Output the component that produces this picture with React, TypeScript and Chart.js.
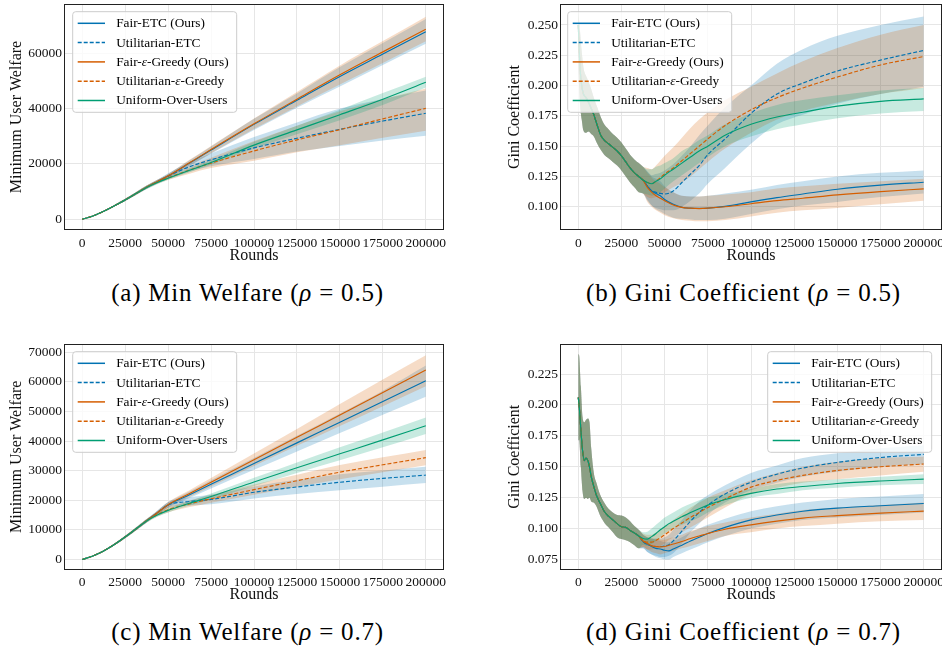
import React, { useEffect, useRef } from "react";
import { Chart, registerables } from "chart.js";

Chart.register(...registerables);

const FONT = "'Liberation Serif', 'Times New Roman', serif";

// ---------------- shared labels / ticks ----------------
const SERIES_NAMES = [
  "Fair-ETC (Ours)",
  "Utilitarian-ETC",
  "Fair-ε-Greedy (Ours)",
  "Utilitarian-ε-Greedy",
  "Uniform-Over-Users",
];
const SERIES_COLORS = ["#0072B2", "#0072B2", "#D55E00", "#D55E00", "#009E73"];
const SERIES_DASHED = [false, true, false, true, false];

const ROUND_TICKS = [0, 25000, 50000, 75000, 100000, 125000, 150000, 175000, 200000];
const WELFARE_TICKS_A = [0, 20000, 40000, 60000];
const WELFARE_TICKS_C = [0, 10000, 20000, 30000, 40000, 50000, 60000, 70000];
const GINI_TICKS_B = [0.1, 0.125, 0.15, 0.175, 0.2, 0.225, 0.25];
const GINI_TICKS_D = [0.075, 0.1, 0.125, 0.15, 0.175, 0.2, 0.225];

const CAPTION_LABELS = ["(a) Min Welfare", "(b) Gini Coefficient", "(c) Min Welfare", "(d) Gini Coefficient"];
const CAPTION_RHO = ["0.5", "0.5", "0.7", "0.7"];

// ---------------- (a) Min welfare, rho = 0.5 ----------------
const roundsA = [0, 6250, 12500, 18750, 25000, 31250, 37500, 43750, 50000, 62500, 75000, 100000, 125000, 150000, 175000, 200000];
const fairEtcA = [0, 1200, 2900, 4900, 7000, 9300, 11600, 13600, 15600, 20300, 25000, 34300, 43000, 51600, 59700, 67800];
const fairEtcALo = [0, 1100, 2700, 4600, 6600, 8800, 11000, 12900, 14900, 19300, 23700, 32300, 40300, 48000, 55800, 63400];
const fairEtcAHi = [0, 1300, 3100, 5200, 7400, 9800, 12200, 14300, 16300, 21300, 26300, 36300, 45500, 55000, 63700, 72400];
const utilEtcA = [0, 1200, 2900, 4900, 7000, 9300, 11600, 13600, 15600, 19000, 21500, 25800, 29300, 32500, 35500, 38300];
const utilEtcALo = [0, 1100, 2700, 4600, 6600, 8800, 11000, 12900, 14600, 17200, 19200, 21800, 24500, 26500, 28500, 30200];
const utilEtcAHi = [0, 1300, 3100, 5200, 7400, 9800, 12200, 14300, 16600, 20600, 23800, 29700, 35000, 40000, 43500, 46500];
const fairEpsA = [0, 1200, 2900, 4900, 7000, 9300, 11600, 13600, 15700, 20400, 25200, 34500, 43400, 52200, 60500, 68700];
const fairEpsALo = [0, 1100, 2700, 4600, 6600, 8800, 11000, 12900, 15000, 19400, 23900, 32600, 40800, 48700, 56500, 64300];
const fairEpsAHi = [0, 1300, 3100, 5200, 7400, 9800, 12200, 14300, 16400, 21500, 26500, 36400, 46000, 55600, 64400, 73200];
const utilEpsA = [0, 1200, 2900, 4900, 7000, 9300, 11600, 13500, 15000, 17800, 20300, 24700, 28700, 32400, 36300, 40100];
const utilEpsALo = [0, 1100, 2700, 4600, 6600, 8800, 11000, 12800, 14200, 16500, 18500, 21200, 24200, 26800, 29500, 32000];
const utilEpsAHi = [0, 1300, 3100, 5200, 7400, 9800, 12200, 14200, 15800, 19200, 22200, 28300, 33800, 39000, 43500, 47300];
const uniformA = [0, 1200, 2900, 4900, 7000, 9300, 11500, 13300, 14800, 17700, 20500, 26800, 32300, 37800, 43400, 49500];
const uniformALo = [0, 1100, 2700, 4600, 6600, 8800, 10900, 12700, 14300, 17000, 19700, 25600, 30700, 35800, 41300, 47600];
const uniformAHi = [0, 1300, 3100, 5200, 7400, 9800, 12100, 13900, 15300, 18400, 21400, 28000, 33800, 39600, 45600, 51500];

// ---------------- (c) Min welfare, rho = 0.7 ----------------
const roundsC = [0, 6250, 12500, 18750, 25000, 31250, 37500, 43750, 50000, 62500, 75000, 100000, 125000, 150000, 175000, 200000];
const fairEtcC = [0, 1200, 2900, 5100, 7600, 10300, 13100, 15800, 18400, 21900, 25400, 32400, 39400, 46400, 53400, 60400];
const fairEtcCLo = [0, 1100, 2700, 4800, 7200, 9800, 12500, 15100, 17500, 20800, 24000, 30300, 36500, 42700, 48900, 55000];
const fairEtcCHi = [0, 1300, 3100, 5400, 8000, 10800, 13700, 16500, 19300, 23000, 26800, 34300, 41800, 49300, 57000, 65500];
const utilEtcC = [0, 1200, 2900, 5100, 7600, 10300, 13100, 15800, 18400, 19600, 20300, 22700, 24500, 26100, 27400, 28500];
const utilEtcCLo = [0, 1100, 2700, 4800, 7200, 9800, 12500, 15100, 17500, 18200, 18700, 20600, 22100, 23400, 24600, 25800];
const utilEtcCHi = [0, 1300, 3100, 5400, 8000, 10800, 13700, 16500, 19300, 21000, 21900, 24700, 26900, 28800, 30100, 31300];
const fairEpsC = [0, 1200, 2900, 5100, 7600, 10300, 13100, 15800, 18500, 22300, 26100, 33700, 41300, 48800, 56400, 64000];
const fairEpsCLo = [0, 1100, 2700, 4800, 7200, 9800, 12500, 15100, 17600, 21200, 24700, 31600, 38400, 45100, 51800, 58500];
const fairEpsCHi = [0, 1300, 3100, 5400, 8000, 10800, 13700, 16500, 19400, 23400, 27500, 35800, 44100, 52500, 60800, 69000];
const utilEpsC = [0, 1200, 2900, 5100, 7600, 10300, 13100, 15200, 16800, 18800, 20500, 23600, 26600, 29500, 32000, 34400];
const utilEpsCLo = [0, 1100, 2700, 4800, 7200, 9800, 12500, 14500, 15900, 17700, 19200, 21900, 24600, 27100, 29500, 31800];
const utilEpsCHi = [0, 1300, 3100, 5400, 8000, 10800, 13700, 15900, 17700, 19900, 21800, 25300, 28600, 31900, 34500, 37000];
const uniformC = [0, 1200, 2900, 5100, 7600, 10300, 13000, 15000, 16600, 19000, 21300, 26200, 31000, 35700, 40400, 45200];
const uniformCLo = [0, 1100, 2700, 4800, 7200, 9800, 12400, 14400, 15900, 18200, 20300, 24800, 29200, 33500, 37900, 42400];
const uniformCHi = [0, 1300, 3100, 5400, 8000, 10800, 13600, 15600, 17300, 19800, 22300, 27600, 32800, 37900, 42900, 48000];

// ---------------- (b) Gini, rho = 0.5 ----------------
// early phase (identical for all policies)
const roundsBEarly = [0, 1000, 2000, 3000, 4500, 6000, 7500, 9000, 11000, 13000, 15000, 17500, 20000, 22500, 25000, 27500, 30000, 32500, 35000];
const giniBEarly = [0.25, 0.215, 0.2, 0.193, 0.19, 0.186, 0.181, 0.176, 0.167, 0.159, 0.155, 0.152, 0.149, 0.146, 0.142, 0.137, 0.132, 0.128, 0.125];
const giniBEarlyLo = [0.215, 0.185, 0.172, 0.163, 0.161, 0.162, 0.16, 0.158, 0.152, 0.147, 0.143, 0.14, 0.137, 0.134, 0.13, 0.125, 0.12, 0.116, 0.112];
const giniBEarlyHi = [0.262, 0.245, 0.228, 0.215, 0.208, 0.203, 0.197, 0.19, 0.182, 0.174, 0.168, 0.164, 0.16, 0.157, 0.153, 0.148, 0.143, 0.139, 0.136];
const roundsBLate = [37500, 40000, 42500, 45000, 47500, 50000, 55000, 60000, 65000, 70000, 75000, 85000, 100000, 115000, 130000, 150000, 175000, 200000];
const fairEtcB = [0.122, 0.117, 0.113, 0.111, 0.109, 0.106, 0.102, 0.0995, 0.0988, 0.0986, 0.0988, 0.1003, 0.104, 0.1075, 0.1105, 0.1144, 0.1178, 0.1202];
const fairEtcBLo = [0.111, 0.105, 0.101, 0.098, 0.096, 0.094, 0.091, 0.09, 0.0895, 0.089, 0.089, 0.09, 0.094, 0.098, 0.101, 0.104, 0.108, 0.111];
const fairEtcBHi = [0.133, 0.129, 0.125, 0.123, 0.121, 0.117, 0.112, 0.109, 0.1085, 0.1085, 0.109, 0.111, 0.114, 0.118, 0.121, 0.125, 0.128, 0.13];
const utilEtcB = [0.122, 0.117, 0.113, 0.112, 0.111, 0.1105, 0.113, 0.12, 0.127, 0.134, 0.143, 0.156, 0.177, 0.193, 0.202, 0.212, 0.221, 0.229];
const utilEtcBLo = [0.111, 0.106, 0.101, 0.099, 0.098, 0.097, 0.097, 0.1, 0.105, 0.111, 0.119, 0.132, 0.152, 0.168, 0.176, 0.185, 0.193, 0.199];
const utilEtcBHi = [0.133, 0.129, 0.126, 0.127, 0.128, 0.13, 0.135, 0.142, 0.15, 0.159, 0.167, 0.182, 0.2, 0.218, 0.23, 0.241, 0.25, 0.257];
const fairEpsB = [0.122, 0.116, 0.112, 0.109, 0.107, 0.105, 0.1015, 0.0995, 0.0988, 0.0985, 0.0988, 0.1, 0.1025, 0.105, 0.107, 0.1098, 0.1125, 0.1147];
const fairEpsBLo = [0.111, 0.104, 0.1, 0.097, 0.095, 0.093, 0.0905, 0.089, 0.0885, 0.088, 0.088, 0.089, 0.092, 0.095, 0.097, 0.099, 0.102, 0.105];
const fairEpsBHi = [0.133, 0.128, 0.124, 0.121, 0.119, 0.116, 0.112, 0.109, 0.1085, 0.1085, 0.109, 0.11, 0.112, 0.115, 0.117, 0.119, 0.121, 0.123];
const utilEpsB = [0.122, 0.12, 0.119, 0.121, 0.124, 0.127, 0.132, 0.138, 0.144, 0.15, 0.156, 0.167, 0.18, 0.19, 0.198, 0.207, 0.217, 0.224];
const utilEpsBLo = [0.111, 0.108, 0.107, 0.108, 0.11, 0.112, 0.116, 0.12, 0.125, 0.131, 0.137, 0.148, 0.161, 0.172, 0.179, 0.186, 0.193, 0.198];
const utilEpsBHi = [0.133, 0.132, 0.131, 0.134, 0.138, 0.142, 0.149, 0.157, 0.165, 0.172, 0.178, 0.188, 0.199, 0.21, 0.22, 0.231, 0.242, 0.25];
const uniformB = [0.122, 0.12, 0.119, 0.121, 0.123, 0.126, 0.131, 0.136, 0.141, 0.146, 0.15, 0.159, 0.168, 0.174, 0.178, 0.183, 0.187, 0.189];
const uniformBLo = [0.111, 0.11, 0.109, 0.11, 0.112, 0.115, 0.121, 0.126, 0.131, 0.136, 0.141, 0.15, 0.158, 0.164, 0.168, 0.173, 0.177, 0.179];
const uniformBHi = [0.133, 0.131, 0.131, 0.133, 0.134, 0.136, 0.14, 0.146, 0.15, 0.155, 0.159, 0.168, 0.177, 0.184, 0.188, 0.192, 0.196, 0.198];

// ---------------- (d) Gini, rho = 0.7 ----------------
const roundsDEarly = [0, 500, 1500, 2500, 3500, 4500, 5500, 6500, 7500, 9000, 10500, 12500, 15000, 17500, 20000, 22500, 25000, 27500, 30000, 32500, 35000];
const giniDEarly = [0.206, 0.2, 0.18, 0.163, 0.155, 0.157, 0.155, 0.15, 0.142, 0.134, 0.127, 0.121, 0.114, 0.11, 0.107, 0.104, 0.1015, 0.101, 0.0985, 0.0965, 0.094];
const giniDEarlyLo = [0.171, 0.172, 0.15, 0.13, 0.124, 0.125, 0.124, 0.125, 0.122, 0.121, 0.118, 0.111, 0.105, 0.101, 0.097, 0.093, 0.0915, 0.0905, 0.089, 0.0865, 0.084];
const giniDEarlyHi = [0.241, 0.24, 0.215, 0.19, 0.186, 0.188, 0.189, 0.186, 0.165, 0.145, 0.137, 0.128, 0.121, 0.116, 0.113, 0.111, 0.1105, 0.109, 0.106, 0.102, 0.099];
const roundsDLate = [37500, 40000, 42500, 45000, 47500, 50000, 52500, 55000, 60000, 65000, 70000, 75000, 85000, 100000, 115000, 130000, 150000, 175000, 200000];
const fairEtcD = [0.0895, 0.0875, 0.0855, 0.084, 0.0835, 0.0825, 0.082, 0.0835, 0.0865, 0.09, 0.093, 0.096, 0.101, 0.107, 0.111, 0.114, 0.1165, 0.1185, 0.1203];
const fairEtcDLo = [0.084, 0.081, 0.079, 0.077, 0.076, 0.075, 0.075, 0.077, 0.08, 0.083, 0.086, 0.089, 0.094, 0.1, 0.104, 0.107, 0.109, 0.111, 0.113];
const fairEtcDHi = [0.095, 0.093, 0.092, 0.091, 0.09, 0.089, 0.089, 0.09, 0.093, 0.097, 0.1, 0.103, 0.108, 0.114, 0.118, 0.121, 0.124, 0.126, 0.128];
const utilEtcD = [0.0895, 0.087, 0.086, 0.0855, 0.0855, 0.086, 0.087, 0.09, 0.098, 0.106, 0.113, 0.119, 0.128, 0.1375, 0.144, 0.149, 0.1535, 0.1575, 0.16];
const utilEtcDLo = [0.084, 0.081, 0.079, 0.078, 0.077, 0.077, 0.078, 0.08, 0.088, 0.097, 0.104, 0.111, 0.121, 0.131, 0.137, 0.142, 0.146, 0.15, 0.152];
const utilEtcDHi = [0.095, 0.093, 0.092, 0.092, 0.092, 0.093, 0.095, 0.099, 0.107, 0.115, 0.122, 0.127, 0.135, 0.145, 0.151, 0.157, 0.161, 0.165, 0.1675];
const fairEpsD = [0.09, 0.088, 0.086, 0.0855, 0.0852, 0.0855, 0.0865, 0.0875, 0.0895, 0.092, 0.094, 0.096, 0.0995, 0.103, 0.106, 0.1085, 0.1105, 0.1125, 0.1141];
const fairEpsDLo = [0.085, 0.083, 0.081, 0.08, 0.079, 0.08, 0.081, 0.082, 0.084, 0.086, 0.088, 0.09, 0.094, 0.097, 0.1, 0.102, 0.104, 0.106, 0.107];
const fairEpsDHi = [0.095, 0.093, 0.092, 0.091, 0.091, 0.091, 0.092, 0.093, 0.095, 0.098, 0.1, 0.102, 0.105, 0.109, 0.112, 0.115, 0.117, 0.119, 0.121];
const utilEpsD = [0.0905, 0.089, 0.089, 0.0905, 0.0925, 0.095, 0.0975, 0.1, 0.1045, 0.109, 0.113, 0.117, 0.124, 0.1335, 0.139, 0.143, 0.147, 0.15, 0.1522];
const utilEpsDLo = [0.085, 0.083, 0.083, 0.084, 0.086, 0.088, 0.091, 0.093, 0.097, 0.101, 0.105, 0.109, 0.117, 0.128, 0.133, 0.137, 0.14, 0.143, 0.146];
const utilEpsDHi = [0.096, 0.095, 0.095, 0.097, 0.099, 0.102, 0.104, 0.107, 0.112, 0.117, 0.121, 0.125, 0.131, 0.139, 0.145, 0.15, 0.154, 0.157, 0.158];
const uniformD = [0.092, 0.0915, 0.0935, 0.096, 0.099, 0.1015, 0.104, 0.106, 0.1095, 0.113, 0.116, 0.119, 0.1235, 0.1285, 0.132, 0.134, 0.1365, 0.1385, 0.14];
const uniformDLo = [0.087, 0.086, 0.0875, 0.09, 0.093, 0.096, 0.098, 0.1, 0.103, 0.106, 0.109, 0.113, 0.119, 0.125, 0.128, 0.131, 0.133, 0.135, 0.136];
const uniformDHi = [0.097, 0.0975, 0.1, 0.103, 0.106, 0.109, 0.111, 0.113, 0.117, 0.12, 0.123, 0.125, 0.128, 0.132, 0.136, 0.138, 0.14, 0.142, 0.144];

// ---------------- assemble series tables ----------------
type Band = { mean: number[]; lo: number[]; hi: number[] };
const join = (early: number[], tail: number[]) => [...early, ...tail];

const roundsB = join(roundsBEarly, roundsBLate);
const roundsD = join(roundsDEarly, roundsDLate);

const bandB = (m: number[], l: number[], h: number[]): Band => ({
  mean: join(giniBEarly, m), lo: join(giniBEarlyLo, l), hi: join(giniBEarlyHi, h),
});
const bandD = (m: number[], l: number[], h: number[]): Band => ({
  mean: join(giniDEarly, m), lo: join(giniDEarlyLo, l), hi: join(giniDEarlyHi, h),
});

const SERIES_A: Band[] = [
  { mean: fairEtcA, lo: fairEtcALo, hi: fairEtcAHi },
  { mean: utilEtcA, lo: utilEtcALo, hi: utilEtcAHi },
  { mean: fairEpsA, lo: fairEpsALo, hi: fairEpsAHi },
  { mean: utilEpsA, lo: utilEpsALo, hi: utilEpsAHi },
  { mean: uniformA, lo: uniformALo, hi: uniformAHi },
];
const SERIES_C: Band[] = [
  { mean: fairEtcC, lo: fairEtcCLo, hi: fairEtcCHi },
  { mean: utilEtcC, lo: utilEtcCLo, hi: utilEtcCHi },
  { mean: fairEpsC, lo: fairEpsCLo, hi: fairEpsCHi },
  { mean: utilEpsC, lo: utilEpsCLo, hi: utilEpsCHi },
  { mean: uniformC, lo: uniformCLo, hi: uniformCHi },
];
const SERIES_B: Band[] = [
  bandB(fairEtcB, fairEtcBLo, fairEtcBHi),
  bandB(utilEtcB, utilEtcBLo, utilEtcBHi),
  bandB(fairEpsB, fairEpsBLo, fairEpsBHi),
  bandB(utilEpsB, utilEpsBLo, utilEpsBHi),
  bandB(uniformB, uniformBLo, uniformBHi),
];
const SERIES_D: Band[] = [
  bandD(fairEtcD, fairEtcDLo, fairEtcDHi),
  bandD(utilEtcD, utilEtcDLo, utilEtcDHi),
  bandD(fairEpsD, fairEpsDLo, fairEpsDHi),
  bandD(utilEpsD, utilEpsDLo, utilEpsDHi),
  bandD(uniformD, uniformDLo, uniformDHi),
];

// ---------------- layout (positions / sizes) ----------------
type PanelSpec = {
  left: number; top: number; width: number; height: number;
  area: { l: number; t: number; r: number; b: number };
  yTitle: string; yTitleX: number; xTitleY: number;
  yMin: number; yMax: number; yTicks: number[]; yDecimals: number;
  legend: { x: number; y: number };
  rounds: number[]; series: Band[];
};

const PANELS: PanelSpec[] = [
  {
    left: 0, top: 0, width: 470, height: 270, area: { l: 65, t: 4, r: 443, b: 230 },
    yTitle: "Minimum User Welfare", yTitleX: 16.7, xTitleY: 256,
    yMin: -3870, yMax: 77800, yTicks: WELFARE_TICKS_A, yDecimals: 0,
    legend: { x: 72.7, y: 11.7 }, rounds: roundsA, series: SERIES_A,
  },
  {
    left: 470, top: 0, width: 472, height: 270, area: { l: 91, t: 4, r: 471, b: 230 },
    yTitle: "Gini Coefficient", yTitleX: 45, xTitleY: 256,
    yMin: 0.0808, yMax: 0.2673, yTicks: GINI_TICKS_B, yDecimals: 3,
    legend: { x: 97.7, y: 11.7 }, rounds: roundsB, series: SERIES_B,
  },
  {
    left: 0, top: 330, width: 470, height: 280, area: { l: 65, t: 14, r: 443, b: 239.5 },
    yTitle: "Minimum User Welfare", yTitleX: 16.7, xTitleY: 265,
    yMin: -3380, yMax: 72800, yTicks: WELFARE_TICKS_C, yDecimals: 0,
    legend: { x: 72.7, y: 21.7 }, rounds: roundsC, series: SERIES_C,
  },
  {
    left: 470, top: 330, width: 472, height: 280, area: { l: 91, t: 14, r: 471, b: 239.5 },
    yTitle: "Gini Coefficient", yTitleX: 45, xTitleY: 265,
    yMin: 0.0669, yMax: 0.2493, yTicks: GINI_TICKS_D, yDecimals: 3,
    legend: { x: 297.7, y: 21.7 }, rounds: roundsD, series: SERIES_D,
  },
];

const CAPTION_POS = [
  { cx: 247.5, cy: 293 },
  { cx: 743.5, cy: 293 },
  { cx: 247.5, cy: 632 },
  { cx: 743.5, cy: 632 },
];

const LEGEND_W = 164;
const LEGEND_H = 100.6;
const LEGEND_ROW0 = 11.6;
const LEGEND_GAP = 19.3;

function withAlpha(hex: string, a: number) {
  const r = parseInt(hex.slice(1, 3), 16);
  const g = parseInt(hex.slice(3, 5), 16);
  const b = parseInt(hex.slice(5, 7), 16);
  return `rgba(${r},${g},${b},${a})`;
}

function drawRich(ctx: CanvasRenderingContext2D, text: string, x: number, y: number) {
  const parts = text.split("ε");
  let cx = x;
  parts.forEach((p, i) => {
    ctx.font = `13.3px ${FONT}`;
    ctx.fillText(p, cx, y);
    cx += ctx.measureText(p).width;
    if (i < parts.length - 1) {
      ctx.font = `italic 13.3px ${FONT}`;
      ctx.fillText("ε", cx, y);
      cx += ctx.measureText("ε").width;
    }
  });
}

const decoPlugin = {
  id: "deco",
  afterDraw(chart: any, _args: any, opts: any) {
    const ctx: CanvasRenderingContext2D = chart.ctx;
    const a = chart.chartArea;
    ctx.save();
    // legend box
    const lx = opts.x, ly = opts.y;
    ctx.beginPath();
    const r = 3;
    ctx.moveTo(lx + r, ly);
    ctx.arcTo(lx + LEGEND_W, ly, lx + LEGEND_W, ly + LEGEND_H, r);
    ctx.arcTo(lx + LEGEND_W, ly + LEGEND_H, lx, ly + LEGEND_H, r);
    ctx.arcTo(lx, ly + LEGEND_H, lx, ly, r);
    ctx.arcTo(lx, ly, lx + LEGEND_W, ly, r);
    ctx.closePath();
    ctx.fillStyle = "rgba(255,255,255,0.8)";
    ctx.fill();
    ctx.strokeStyle = "#cccccc";
    ctx.lineWidth = 1;
    ctx.stroke();
    SERIES_NAMES.forEach((name, i) => {
      const y = ly + LEGEND_ROW0 + i * LEGEND_GAP;
      ctx.beginPath();
      ctx.setLineDash(SERIES_DASHED[i] ? [4, 2] : []);
      ctx.strokeStyle = SERIES_COLORS[i];
      ctx.lineWidth = 1.5;
      ctx.moveTo(lx + 5, y);
      ctx.lineTo(lx + 32.3, y);
      ctx.stroke();
      ctx.setLineDash([]);
      ctx.fillStyle = "#000";
      ctx.textBaseline = "middle";
      ctx.textAlign = "left";
      drawRich(ctx, name, lx + 43.5, y + 0.5);
    });
    // axes frame
    ctx.strokeStyle = "#222";
    ctx.lineWidth = 1;
    ctx.strokeRect(Math.round(a.left) - 0.5, Math.round(a.top) + 0.5, Math.round(a.right - a.left) + 1, Math.round(a.bottom - a.top) - 1);
    ctx.restore();
  },
};

function Panel({ spec }: { spec: PanelSpec }) {
  const ref = useRef<HTMLCanvasElement | null>(null);
  useEffect(() => {
    if (!ref.current) return;
    const { rounds, series } = spec;
    const datasets: any[] = [];
    // bands: later series drawn on top (higher order = drawn earlier)
    series.forEach((s, i) => {
      const loIndex = datasets.length;
      datasets.push({
        data: rounds.map((x, k) => ({ x, y: s.lo[k] })),
        borderWidth: 0, pointRadius: 0, fill: false, order: 20 - i,
        cubicInterpolationMode: "monotone",
      });
      datasets.push({
        data: rounds.map((x, k) => ({ x, y: s.hi[k] })),
        borderWidth: 0, pointRadius: 0, fill: loIndex, order: 20 - i,
        backgroundColor: withAlpha(SERIES_COLORS[i], 0.22),
        cubicInterpolationMode: "monotone",
      });
    });
    series.forEach((s, i) => {
      datasets.push({
        label: SERIES_NAMES[i],
        data: rounds.map((x, k) => ({ x, y: s.mean[k] })),
        borderColor: SERIES_COLORS[i],
        borderWidth: 1.15,
        borderDash: SERIES_DASHED[i] ? [4, 2] : [],
        pointRadius: 0, fill: false, order: 5 - i,
        cubicInterpolationMode: "monotone",
      });
    });
    const lh = 16 * 1.2;
    const xAxisH = spec.height - spec.area.b;
    const chart = new Chart(ref.current, {
      type: "line",
      data: { datasets },
      plugins: [decoPlugin],
      options: {
        animation: false,
        responsive: false,
        devicePixelRatio: 1,
        layout: { padding: { top: spec.area.t, left: 0, right: spec.width - spec.area.r, bottom: 0 } },
        plugins: {
          legend: { display: false },
          tooltip: { enabled: false },
          deco: spec.legend,
        } as any,
        scales: {
          x: {
            type: "linear",
            min: -10000,
            max: 210000,
            afterBuildTicks: (axis: any) => { axis.ticks = ROUND_TICKS.map((v) => ({ value: v })); },
            afterFit: (axis: any) => { axis.height = xAxisH; axis.paddingLeft = 0; axis.paddingRight = 0; },
            ticks: {
              callback: (v: any) => String(v),
              font: { family: FONT, size: 13.5 },
              color: "#111",
              padding: 5,
              maxRotation: 0,
              autoSkip: false,
            },
            grid: { color: "#e6e6e6", lineWidth: 1, drawTicks: false },
            border: { display: false },
            title: {
              display: true, text: "Rounds", color: "#111",
              font: { family: FONT, size: 16, lineHeight: 1.2 },
              padding: { top: 0, bottom: spec.height - spec.xTitleY - lh / 2 },
            },
          },
          y: {
            type: "linear",
            min: spec.yMin,
            max: spec.yMax,
            afterBuildTicks: (axis: any) => { axis.ticks = spec.yTicks.map((v) => ({ value: v })); },
            afterFit: (axis: any) => { axis.width = spec.area.l; axis.paddingTop = 0; axis.paddingBottom = 0; },
            ticks: {
              callback: (v: any) => Number(v).toFixed(spec.yDecimals),
              font: { family: FONT, size: 13.5 },
              color: "#111",
              padding: 3,
              autoSkip: false,
            },
            grid: { color: "#e6e6e6", lineWidth: 1, drawTicks: false },
            border: { display: false },
            title: {
              display: true, text: spec.yTitle, color: "#111",
              font: { family: FONT, size: 16, lineHeight: 1.2 },
              padding: { top: spec.yTitleX - lh / 2, bottom: 0 },
            },
          },
        },
      } as any,
    });
    return () => chart.destroy();
  }, [spec]);
  return (
    <canvas
      ref={ref}
      width={spec.width}
      height={spec.height}
      style={{ position: "absolute", left: spec.left, top: spec.top, width: spec.width, height: spec.height }}
    />
  );
}

export default function App() {
  return (
    <div style={{ position: "absolute", left: 0, top: 0, width: 942, height: 646, background: "#fff", overflow: "hidden" }}>
      {PANELS.map((p, i) => (
        <Panel key={i} spec={p} />
      ))}
      {CAPTION_LABELS.map((label, i) => (
        <div
          key={"cap" + i}
          style={{
            position: "absolute",
            left: CAPTION_POS[i].cx - 220,
            top: CAPTION_POS[i].cy - 15,
            width: 440,
            height: 30,
            lineHeight: "30px",
            textAlign: "center",
            fontFamily: FONT,
            fontSize: 25,
            letterSpacing: 0.8,
            whiteSpace: "nowrap",
            color: "#000",
          }}
        >
          {label} (<i>ρ</i>&nbsp;=&nbsp;{CAPTION_RHO[i]})
        </div>
      ))}
    </div>
  );
}
